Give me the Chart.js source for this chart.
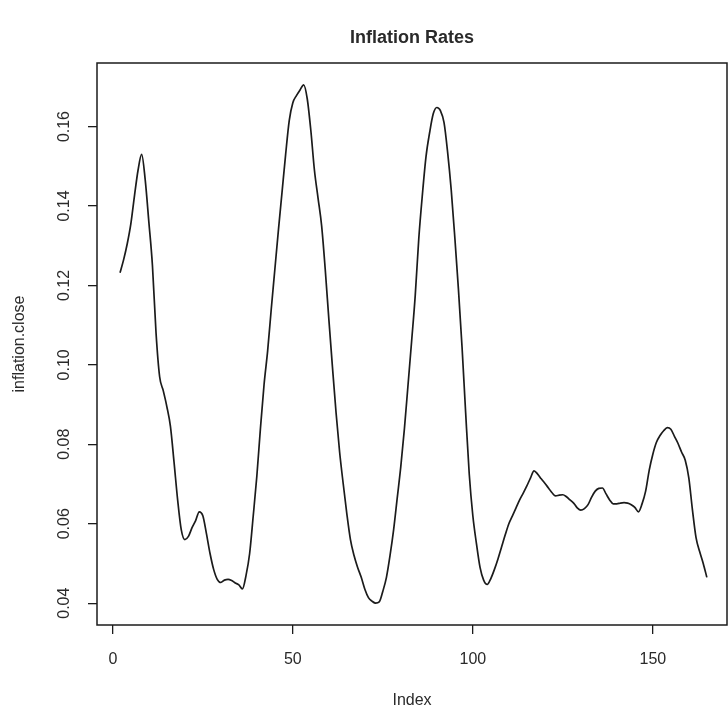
<!DOCTYPE html>
<html>
<head>
<meta charset="utf-8">
<title>Inflation Rates</title>
<script src="https://cdn.jsdelivr.net/npm/chart.js@4.4.1/dist/chart.umd.min.js"></script>
<style>
  html, body { margin: 0; padding: 0; background: #fff; }
  canvas { display: block; }
</style>
</head>
<body>
<canvas id="inflationChart" width="728" height="715"></canvas>
<script>
// values, one per index starting at 2
const firstIndex = 2;
const inflationClose = [
  0.1232, 0.1265, 0.1305, 0.1355, 0.1425, 0.1490, 0.1530, 0.1465, 0.1360, 0.1250,
  0.1080, 0.0970, 0.0935, 0.0895, 0.0845, 0.0755, 0.0660, 0.0585, 0.0560, 0.0568,
  0.0590, 0.0608, 0.0630, 0.0620, 0.0575, 0.0525, 0.0485, 0.0460, 0.0452, 0.0458,
  0.0460, 0.0457, 0.0451, 0.0446, 0.0436, 0.0470, 0.0525, 0.0620, 0.0720, 0.0840,
  0.0950, 0.1035, 0.1140, 0.1240, 0.1340, 0.1435, 0.1530, 0.1615, 0.1660, 0.1678,
  0.1692, 0.1705, 0.1670, 0.1590, 0.1490, 0.1420, 0.1350, 0.1240, 0.1115, 0.0995,
  0.0880, 0.0780, 0.0700, 0.0625, 0.0560, 0.0520, 0.0490, 0.0465, 0.0435, 0.0414,
  0.0405, 0.0400, 0.0403, 0.0430, 0.0465, 0.0520, 0.0585, 0.0665, 0.0745, 0.0840,
  0.0950, 0.1060, 0.1175, 0.1320, 0.1430, 0.1525, 0.1585, 0.1632, 0.1648, 0.1640,
  0.1610, 0.1535, 0.1440, 0.1320, 0.1190, 0.1045, 0.0880, 0.0725, 0.0620, 0.0550,
  0.0490, 0.0458, 0.0447, 0.0462, 0.0485, 0.0512, 0.0542, 0.0572, 0.0600, 0.0620,
  0.0640, 0.0660, 0.0677, 0.0695, 0.0715, 0.0733, 0.0725, 0.0713, 0.0702, 0.0690,
  0.0678, 0.0670, 0.0672, 0.0673, 0.0668, 0.0660, 0.0652, 0.0640, 0.0634, 0.0638,
  0.0648, 0.0667, 0.0682, 0.0689, 0.0690, 0.0675, 0.0660, 0.0650, 0.0650, 0.0652,
  0.0653, 0.0652, 0.0648, 0.0641, 0.0630, 0.0650, 0.0682, 0.0735, 0.0775, 0.0805,
  0.0822, 0.0834, 0.0842, 0.0838, 0.0820, 0.0802, 0.0780, 0.0760, 0.0715, 0.0635,
  0.0565, 0.0530, 0.0500, 0.0465
];
const indexLabels = inflationClose.map((v, k) => k + firstIndex);

const xTicks = [0, 50, 100, 150];
const yTicks = [0.04, 0.06, 0.08, 0.10, 0.12, 0.14, 0.16];

const ink = '#1b1b1b';
const textInk = '#2a2a2a';
const font = '"Liberation Sans", Arial, Helvetica, sans-serif';

// R-style frame, title, axis labels and tick labels
const rPlotDecor = {
  id: 'rPlotDecor',
  afterDraw(chart) {
    const ctx = chart.ctx;
    const area = chart.chartArea;
    const xs = chart.scales.x;
    const ys = chart.scales.y;

    ctx.save();
    ctx.strokeStyle = ink;
    ctx.lineWidth = 1.5;
    ctx.strokeRect(area.left, area.top, area.right - area.left, area.bottom - area.top);

    ctx.fillStyle = textInk;
    ctx.textAlign = 'center';
    ctx.textBaseline = 'middle';

    ctx.font = '16px ' + font;
    xTicks.forEach(v => {
      ctx.fillText(String(v), xs.getPixelForValue(v), 660);
    });
    yTicks.forEach(v => {
      ctx.save();
      ctx.translate(65, ys.getPixelForValue(v));
      ctx.rotate(-Math.PI / 2);
      ctx.fillText(v.toFixed(2), 0, 0);
      ctx.restore();
    });

    ctx.font = '16px ' + font;
    ctx.fillText('Index', (area.left + area.right) / 2, 701);
    ctx.save();
    ctx.translate(20, (area.top + area.bottom) / 2);
    ctx.rotate(-Math.PI / 2);
    ctx.fillText('inflation.close', 0, 0);
    ctx.restore();

    ctx.font = 'bold 18px ' + font;
    ctx.fillText('Inflation Rates', (area.left + area.right) / 2, 38);
    ctx.restore();
  }
};

new Chart(document.getElementById('inflationChart'), {
  type: 'line',
  data: {
    labels: indexLabels,
    datasets: [{
      label: 'inflation.close',
      data: inflationClose,
      borderColor: ink,
      borderWidth: 1.7,
      pointRadius: 0,
      fill: false,
      cubicInterpolationMode: 'monotone'
    }]
  },
  options: {
    responsive: false,
    animation: false,
    devicePixelRatio: 1,
    layout: { padding: { top: 63, right: 1, bottom: 0, left: 0 } },
    plugins: {
      legend: { display: false },
      tooltip: { enabled: false },
      title: { display: false }
    },
    scales: {
      x: {
        type: 'linear',
        min: -4.4,
        max: 170.6,
        afterBuildTicks: s => { s.ticks = xTicks.map(v => ({ value: v })); },
        afterFit: s => { s.height = 90; },
        ticks: { display: false },
        grid: { drawOnChartArea: false, drawTicks: true, tickLength: 9, color: ink, lineWidth: 1.3 },
        border: { display: false }
      },
      y: {
        type: 'linear',
        min: 0.0345,
        max: 0.176,
        afterBuildTicks: s => { s.ticks = yTicks.map(v => ({ value: v })); },
        afterFit: s => { s.width = 97; },
        ticks: { display: false },
        grid: { drawOnChartArea: false, drawTicks: true, tickLength: 9, color: ink, lineWidth: 1.3 },
        border: { display: false }
      }
    }
  },
  plugins: [rPlotDecor]
});
</script>
</body>
</html>
